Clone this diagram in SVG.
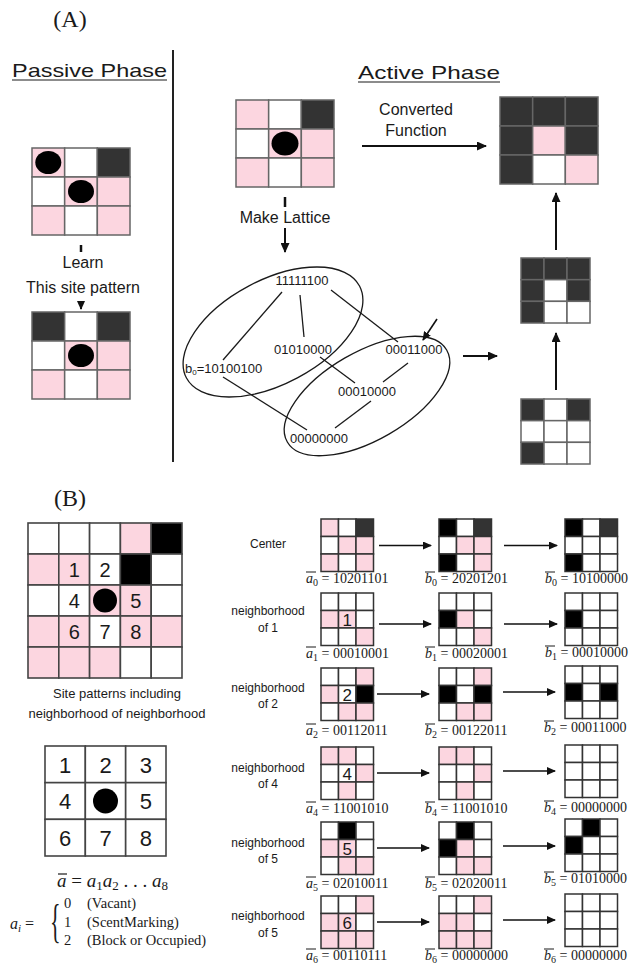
<svg xmlns="http://www.w3.org/2000/svg" xmlns:xlink="http://www.w3.org/1999/xlink" width="636" height="965" viewBox="0 0 636 965">
<style>
text{font-family:"Liberation Sans",Arial,sans-serif;fill:#1a1a1a}
.serif{font-family:"Liberation Serif","Times New Roman",serif}
.hd{font-size:19px}
.lb{font-size:16px}
.lat{font-size:13px}
.nb{font-size:12px}
.num{font-size:20px}
.num3{font-size:22px}
.sn{font-size:17px}
.m{font-family:"Liberation Serif","Times New Roman",serif;font-size:14px}
.it{font-style:italic}
.ln{stroke:#1a1a1a;stroke-width:1.3;fill:none}
.ar2{stroke:#111;stroke-width:2;fill:none}
.ar1{stroke:#111;stroke-width:1.6;fill:none}
</style>
<defs>
<marker id="h2" markerWidth="10" markerHeight="9" refX="9" refY="4.5" orient="auto" markerUnits="userSpaceOnUse"><path d="M0,0 L10,4.5 L0,9 z" fill="#111"/></marker>
<marker id="h1" markerWidth="9" markerHeight="8" refX="8" refY="4" orient="auto" markerUnits="userSpaceOnUse"><path d="M0,0 L9,4 L0,8 z" fill="#111"/></marker>
<rect id="aP" width="32.67" height="29" fill="#fcd6e0" stroke="#666" stroke-width="1.5"/>
<rect id="aW" width="32.67" height="29" fill="#fff" stroke="#666" stroke-width="1.5"/>
<rect id="aD" width="32.67" height="29" fill="#333" stroke="#666" stroke-width="1.5"/>
<rect id="sP" width="23" height="21.67" fill="#fcd6e0" stroke="#666" stroke-width="1.5"/>
<rect id="sW" width="23" height="21.67" fill="#fff" stroke="#666" stroke-width="1.5"/>
<rect id="sD" width="23" height="21.67" fill="#333" stroke="#666" stroke-width="1.5"/>
<rect id="BP" width="30.8" height="31" fill="#fcd6e0" stroke="#444" stroke-width="1.6"/>
<rect id="BW" width="30.8" height="31" fill="#fff" stroke="#444" stroke-width="1.6"/>
<rect id="BK" width="30.8" height="31" fill="#000" stroke="#444" stroke-width="1.6"/>
<rect id="CW" width="40.33" height="36.67" fill="#fff" stroke="#444" stroke-width="1.6"/>
<rect id="bP" width="17.5" height="17.5" fill="#fcd6e0" stroke="#333" stroke-width="1.5"/>
<rect id="bW" width="17.5" height="17.5" fill="#fff" stroke="#333" stroke-width="1.5"/>
<rect id="bK" width="17.5" height="17.5" fill="#000" stroke="#333" stroke-width="1.5"/>
<rect id="bD" width="17.5" height="17.5" fill="#333" stroke="#333" stroke-width="1.5"/>
</defs>
<rect width="636" height="965" fill="#fff"/>

<!-- Titles -->
<text class="serif" x="70" y="27" font-size="24" text-anchor="middle">(A)</text>
<text class="hd" x="12" y="77" textLength="155" lengthAdjust="spacingAndGlyphs">Passive Phase</text>
<line x1="12" y1="80" x2="167" y2="80" stroke="#1a1a1a" stroke-width="1.2"/>
<text class="hd" x="358" y="79" textLength="142" lengthAdjust="spacingAndGlyphs">Active Phase</text>
<line x1="358" y1="82" x2="500" y2="82" stroke="#1a1a1a" stroke-width="1.2"/>
<line x1="173" y1="50" x2="173" y2="462" stroke="#222" stroke-width="2"/>

<!-- Passive grids -->
<g id="passive1" transform="translate(32,148)">
<use href="#aP" x="0" y="0"/><use href="#aW" x="32.67" y="0"/><use href="#aD" x="65.33" y="0"/>
<use href="#aW" x="0" y="29"/><use href="#aP" x="32.67" y="29"/><use href="#aP" x="65.33" y="29"/>
<use href="#aP" x="0" y="58"/><use href="#aW" x="32.67" y="58"/><use href="#aP" x="65.33" y="58"/>
<ellipse cx="16.3" cy="14.5" rx="13" ry="11.5" fill="#000"/>
<ellipse cx="49" cy="43.5" rx="13" ry="11.5" fill="#000"/>
</g>
<g id="learn">
<line x1="81" y1="245" x2="81" y2="252" stroke="#111" stroke-width="2.5"/>
<text class="lb" x="83" y="268" text-anchor="middle">Learn</text>
<text class="lb" x="83" y="293" text-anchor="middle">This site pattern</text>
</g>
<g id="passive2" transform="translate(32,312)">
<use href="#aD" x="0" y="0"/><use href="#aW" x="32.67" y="0"/><use href="#aD" x="65.33" y="0"/>
<use href="#aW" x="0" y="29"/><use href="#aP" x="32.67" y="29"/><use href="#aP" x="65.33" y="29"/>
<use href="#aP" x="0" y="58"/><use href="#aW" x="32.67" y="58"/><use href="#aP" x="65.33" y="58"/>
<ellipse cx="49" cy="43.5" rx="13" ry="11.5" fill="#000"/>
</g>

<!-- Active grids -->
<g id="active-input" transform="translate(236,100)">
<use href="#aP" x="0" y="0"/><use href="#aW" x="32.67" y="0"/><use href="#aD" x="65.33" y="0"/>
<use href="#aW" x="0" y="29"/><use href="#aP" x="32.67" y="29"/><use href="#aP" x="65.33" y="29"/>
<use href="#aP" x="0" y="58"/><use href="#aW" x="32.67" y="58"/><use href="#aP" x="65.33" y="58"/>
<ellipse cx="49" cy="43.5" rx="13.5" ry="12" fill="#000"/>
</g>
<g id="converted-label">
<text class="lb" x="416" y="115" text-anchor="middle">Converted</text>
<text class="lb" x="416" y="136" text-anchor="middle">Function</text>
</g>
<g id="active-output" transform="translate(500,97)">
<use href="#aD" x="0" y="0"/><use href="#aD" x="32.67" y="0"/><use href="#aD" x="65.33" y="0"/>
<use href="#aD" x="0" y="29"/><use href="#aP" x="32.67" y="29"/><use href="#aD" x="65.33" y="29"/>
<use href="#aD" x="0" y="58"/><use href="#aW" x="32.67" y="58"/><use href="#aP" x="65.33" y="58"/>
</g>
<g id="make-lattice">
<line x1="285" y1="197" x2="285" y2="207" stroke="#111" stroke-width="2.5"/>
<text class="lb" x="285" y="223" text-anchor="middle">Make Lattice</text>
</g>
<g id="mid-grid" transform="translate(521,258)">
<use href="#sD" x="0" y="0"/><use href="#sD" x="23" y="0"/><use href="#sD" x="46" y="0"/>
<use href="#sD" x="0" y="21.67"/><use href="#sW" x="23" y="21.67"/><use href="#sD" x="46" y="21.67"/>
<use href="#sD" x="0" y="43.33"/><use href="#sW" x="23" y="43.33"/><use href="#sW" x="46" y="43.33"/>
</g>
<g id="bot-grid" transform="translate(521,399)">
<use href="#sD" x="0" y="0"/><use href="#sW" x="23" y="0"/><use href="#sD" x="46" y="0"/>
<use href="#sW" x="0" y="21.67"/><use href="#sW" x="23" y="21.67"/><use href="#sW" x="46" y="21.67"/>
<use href="#sD" x="0" y="43.33"/><use href="#sW" x="23" y="43.33"/><use href="#sW" x="46" y="43.33"/>
</g>

<!-- Lattice -->
<g id="lattice">
<ellipse cx="273" cy="332" rx="98" ry="52" transform="rotate(-28 273 332)" class="ln"/>
<ellipse cx="367" cy="396" rx="92" ry="44" transform="rotate(-30 367 396)" class="ln"/>
<text class="lat" x="302" y="285" text-anchor="middle">11111100</text>
<text class="lat" x="303" y="354" text-anchor="middle">01010000</text>
<text class="lat" x="185" y="373">b<tspan font-size="8" dy="2">0</tspan><tspan dy="-2">=10100100</tspan></text>
<text class="lat" x="414" y="354" text-anchor="middle">00011000</text>
<text class="lat" x="367" y="396" text-anchor="middle">00010000</text>
<text class="lat" x="319" y="443" text-anchor="middle">00000000</text>
</g>

<!-- Connectors -->
<g id="connectors">
<line x1="81" y1="301" x2="81" y2="309" class="ar2" marker-end="url(#h1)"/>
<line x1="362" y1="146" x2="486" y2="146" class="ar2" marker-end="url(#h2)"/>
<line x1="285" y1="228" x2="285" y2="252" class="ar2" marker-end="url(#h2)"/>
<line x1="556" y1="250" x2="556" y2="193" class="ar2" marker-end="url(#h2)"/>
<line x1="556" y1="390" x2="556" y2="333" class="ar2" marker-end="url(#h2)"/>
<line x1="463" y1="356" x2="497" y2="356" class="ar2" marker-end="url(#h2)"/>
<line x1="437" y1="319" x2="423" y2="340" class="ar1" marker-end="url(#h1)"/>
<line x1="282" y1="292" x2="223" y2="360" class="ln"/>
<line x1="300" y1="295" x2="304" y2="337" class="ln"/>
<line x1="331" y1="290" x2="398" y2="342" class="ln"/>
<line x1="320" y1="357" x2="355" y2="383" class="ln"/>
<line x1="408" y1="363" x2="383" y2="382" class="ln"/>
<line x1="371" y1="401" x2="335" y2="428" class="ln"/>
<line x1="223" y1="377" x2="307" y2="430" class="ln"/>
<!-- B arrows -->
<line x1="379" y1="545.5" x2="431" y2="545.5" class="ar1" marker-end="url(#h1)"/>
<line x1="504" y1="545.5" x2="557" y2="545.5" class="ar1" marker-end="url(#h1)"/>
<line x1="379" y1="624" x2="431" y2="624" class="ar1" marker-end="url(#h1)"/>
<line x1="504" y1="624" x2="557" y2="624" class="ar1" marker-end="url(#h1)"/>
<line x1="377" y1="694" x2="429" y2="694" class="ar1" marker-end="url(#h1)"/>
<line x1="503" y1="692" x2="555" y2="692" class="ar1" marker-end="url(#h1)"/>
<line x1="377" y1="773" x2="429" y2="773" class="ar1" marker-end="url(#h1)"/>
<line x1="503" y1="771" x2="555" y2="771" class="ar1" marker-end="url(#h1)"/>
<line x1="377" y1="848" x2="429" y2="848" class="ar1" marker-end="url(#h1)"/>
<line x1="503" y1="846" x2="555" y2="846" class="ar1" marker-end="url(#h1)"/>
<line x1="377" y1="922" x2="429" y2="922" class="ar1" marker-end="url(#h1)"/>
<line x1="503" y1="920" x2="555" y2="920" class="ar1" marker-end="url(#h1)"/>
</g>

<!-- (B) -->
<text class="serif" x="70" y="506" font-size="24" text-anchor="middle">(B)</text>
<g id="big-grid" transform="translate(28,523)">
<use href="#BW" x="0" y="0"/><use href="#BW" x="30.8" y="0"/><use href="#BW" x="61.6" y="0"/><use href="#BP" x="92.4" y="0"/><use href="#BK" x="123.2" y="0"/>
<use href="#BP" x="0" y="31"/><use href="#BP" x="30.8" y="31"/><use href="#BW" x="61.6" y="31"/><use href="#BK" x="92.4" y="31"/><use href="#BW" x="123.2" y="31"/>
<use href="#BW" x="0" y="62"/><use href="#BW" x="30.8" y="62"/><use href="#BP" x="61.6" y="62"/><use href="#BP" x="92.4" y="62"/><use href="#BW" x="123.2" y="62"/>
<use href="#BP" x="0" y="93"/><use href="#BP" x="30.8" y="93"/><use href="#BW" x="61.6" y="93"/><use href="#BP" x="92.4" y="93"/><use href="#BP" x="123.2" y="93"/>
<use href="#BP" x="0" y="124"/><use href="#BP" x="30.8" y="124"/><use href="#BP" x="61.6" y="124"/><use href="#BW" x="92.4" y="124"/><use href="#BW" x="123.2" y="124"/>
<circle cx="77" cy="77.5" r="12" fill="#000"/>
<text class="num" x="46.2" y="53.5" text-anchor="middle">1</text>
<text class="num" x="77" y="53.5" text-anchor="middle">2</text>
<text class="num" x="46.2" y="84.5" text-anchor="middle">4</text>
<text class="num" x="107.8" y="84.5" text-anchor="middle">5</text>
<text class="num" x="46.2" y="115.5" text-anchor="middle">6</text>
<text class="num" x="77" y="115.5" text-anchor="middle">7</text>
<text class="num" x="107.8" y="115.5" text-anchor="middle">8</text>
</g>
<g id="big-caption">
<text x="117" y="698" font-size="13" text-anchor="middle">Site patterns including</text>
<text x="117" y="718" font-size="13" text-anchor="middle">neighborhood of neighborhood</text>
</g>
<g id="index-grid" transform="translate(45,746)">
<use href="#CW" x="0" y="0"/><use href="#CW" x="40.33" y="0"/><use href="#CW" x="80.67" y="0"/>
<use href="#CW" x="0" y="36.67"/><use href="#CW" x="40.33" y="36.67"/><use href="#CW" x="80.67" y="36.67"/>
<use href="#CW" x="0" y="73.33"/><use href="#CW" x="40.33" y="73.33"/><use href="#CW" x="80.67" y="73.33"/>
<circle cx="60.5" cy="55" r="12.5" fill="#000"/>
<text class="num3" x="20.2" y="26.5" text-anchor="middle">1</text>
<text class="num3" x="60.5" y="26.5" text-anchor="middle">2</text>
<text class="num3" x="100.8" y="26.5" text-anchor="middle">3</text>
<text class="num3" x="20.2" y="63" text-anchor="middle">4</text>
<text class="num3" x="100.8" y="63" text-anchor="middle">5</text>
<text class="num3" x="20.2" y="100" text-anchor="middle">6</text>
<text class="num3" x="60.5" y="100" text-anchor="middle">7</text>
<text class="num3" x="100.8" y="100" text-anchor="middle">8</text>
</g>
<g id="formula">
<text class="serif" x="57" y="887" font-size="19"><tspan class="it">a</tspan> = <tspan class="it">a</tspan><tspan font-size="13" dy="3">1</tspan><tspan class="it" dy="-3">a</tspan><tspan font-size="13" dy="3">2</tspan><tspan dy="-3"> . . . </tspan><tspan class="it">a</tspan><tspan font-size="13" dy="3">8</tspan></text>
<line x1="58" y1="874" x2="67" y2="874" stroke="#1a1a1a" stroke-width="1.2"/>
<text class="serif" x="10" y="929" font-size="16"><tspan class="it">a</tspan><tspan class="it" font-size="11" dy="3">i</tspan><tspan dy="-3"> =</tspan></text>
<text class="serif" x="50" y="927" font-size="22" transform="translate(0,-1010) scale(1,2.1)">{</text>
<text class="serif" x="64" y="908" font-size="14.5">0</text>
<text class="serif" x="87" y="908" font-size="14.5">(Vacant)</text>
<text class="serif" x="64" y="927" font-size="14.5">1</text>
<text class="serif" x="87" y="927" font-size="14.5">(ScentMarking)</text>
<text class="serif" x="64" y="945" font-size="14.5">2</text>
<text class="serif" x="87" y="945" font-size="14.5">(Block or Occupied)</text>
</g>

<!-- Row labels -->
<g id="row-labels">
<text class="nb" x="268" y="548" text-anchor="middle">Center</text>
<text class="nb" x="268" y="615" text-anchor="middle">neighborhood</text>
<text class="nb" x="268" y="632" text-anchor="middle">of 1</text>
<text class="nb" x="268" y="692" text-anchor="middle">neighborhood</text>
<text class="nb" x="268" y="708" text-anchor="middle">of 2</text>
<text class="nb" x="268" y="772" text-anchor="middle">neighborhood</text>
<text class="nb" x="268" y="788" text-anchor="middle">of 4</text>
<text class="nb" x="268" y="847" text-anchor="middle">neighborhood</text>
<text class="nb" x="268" y="863" text-anchor="middle">of 5</text>
<text class="nb" x="268" y="920" text-anchor="middle">neighborhood</text>
<text class="nb" x="268" y="937" text-anchor="middle">of 5</text>
</g>

<!-- Row 0 -->
<g id="r0g1" transform="translate(321,519)">
<use href="#bP" x="0" y="0"/><use href="#bW" x="17.5" y="0"/><use href="#bD" x="35" y="0"/>
<use href="#bW" x="0" y="17.5"/><use href="#bP" x="17.5" y="17.5"/><use href="#bP" x="35" y="17.5"/>
<use href="#bP" x="0" y="35"/><use href="#bW" x="17.5" y="35"/><use href="#bP" x="35" y="35"/>
</g>
<g id="r0g2" transform="translate(439,519)">
<use href="#bK" x="0" y="0"/><use href="#bW" x="17.5" y="0"/><use href="#bD" x="35" y="0"/>
<use href="#bW" x="0" y="17.5"/><use href="#bP" x="17.5" y="17.5"/><use href="#bP" x="35" y="17.5"/>
<use href="#bK" x="0" y="35"/><use href="#bW" x="17.5" y="35"/><use href="#bP" x="35" y="35"/>
</g>
<g id="r0g3" transform="translate(565,519)">
<use href="#bK" x="0" y="0"/><use href="#bW" x="17.5" y="0"/><use href="#bD" x="35" y="0"/>
<use href="#bW" x="0" y="17.5"/><use href="#bW" x="17.5" y="17.5"/><use href="#bW" x="35" y="17.5"/>
<use href="#bK" x="0" y="35"/><use href="#bW" x="17.5" y="35"/><use href="#bW" x="35" y="35"/>
</g>
<!-- Row 1 -->
<g id="r1g1" transform="translate(321,593)">
<use href="#bW" x="0" y="0"/><use href="#bW" x="17.5" y="0"/><use href="#bW" x="35" y="0"/>
<use href="#bP" x="0" y="17.5"/><use href="#bP" x="17.5" y="17.5"/><use href="#bW" x="35" y="17.5"/>
<use href="#bW" x="0" y="35"/><use href="#bW" x="17.5" y="35"/><use href="#bP" x="35" y="35"/>
<text class="sn" x="26.25" y="32.5" text-anchor="middle">1</text>
</g>
<g id="r1g2" transform="translate(439,593)">
<use href="#bW" x="0" y="0"/><use href="#bW" x="17.5" y="0"/><use href="#bW" x="35" y="0"/>
<use href="#bK" x="0" y="17.5"/><use href="#bP" x="17.5" y="17.5"/><use href="#bW" x="35" y="17.5"/>
<use href="#bW" x="0" y="35"/><use href="#bW" x="17.5" y="35"/><use href="#bP" x="35" y="35"/>
</g>
<g id="r1g3" transform="translate(565,593)">
<use href="#bW" x="0" y="0"/><use href="#bW" x="17.5" y="0"/><use href="#bW" x="35" y="0"/>
<use href="#bK" x="0" y="17.5"/><use href="#bW" x="17.5" y="17.5"/><use href="#bW" x="35" y="17.5"/>
<use href="#bW" x="0" y="35"/><use href="#bW" x="17.5" y="35"/><use href="#bW" x="35" y="35"/>
</g>
<!-- Row 2 -->
<g id="r2g1" transform="translate(321,668)">
<use href="#bW" x="0" y="0"/><use href="#bW" x="17.5" y="0"/><use href="#bP" x="35" y="0"/>
<use href="#bP" x="0" y="17.5"/><use href="#bW" x="17.5" y="17.5"/><use href="#bK" x="35" y="17.5"/>
<use href="#bW" x="0" y="35"/><use href="#bP" x="17.5" y="35"/><use href="#bP" x="35" y="35"/>
<text class="sn" x="26.25" y="32.5" text-anchor="middle">2</text>
</g>
<g id="r2g2" transform="translate(439,668)">
<use href="#bW" x="0" y="0"/><use href="#bW" x="17.5" y="0"/><use href="#bP" x="35" y="0"/>
<use href="#bK" x="0" y="17.5"/><use href="#bW" x="17.5" y="17.5"/><use href="#bK" x="35" y="17.5"/>
<use href="#bW" x="0" y="35"/><use href="#bP" x="17.5" y="35"/><use href="#bP" x="35" y="35"/>
</g>
<g id="r2g3" transform="translate(565,666)">
<use href="#bW" x="0" y="0"/><use href="#bW" x="17.5" y="0"/><use href="#bW" x="35" y="0"/>
<use href="#bK" x="0" y="17.5"/><use href="#bW" x="17.5" y="17.5"/><use href="#bK" x="35" y="17.5"/>
<use href="#bW" x="0" y="35"/><use href="#bW" x="17.5" y="35"/><use href="#bW" x="35" y="35"/>
</g>
<!-- Row 3 -->
<g id="r3g1" transform="translate(321,747)">
<use href="#bP" x="0" y="0"/><use href="#bP" x="17.5" y="0"/><use href="#bW" x="35" y="0"/>
<use href="#bW" x="0" y="17.5"/><use href="#bW" x="17.5" y="17.5"/><use href="#bP" x="35" y="17.5"/>
<use href="#bW" x="0" y="35"/><use href="#bP" x="17.5" y="35"/><use href="#bW" x="35" y="35"/>
<text class="sn" x="26.25" y="32.5" text-anchor="middle">4</text>
</g>
<g id="r3g2" transform="translate(439,747)">
<use href="#bP" x="0" y="0"/><use href="#bP" x="17.5" y="0"/><use href="#bW" x="35" y="0"/>
<use href="#bW" x="0" y="17.5"/><use href="#bW" x="17.5" y="17.5"/><use href="#bP" x="35" y="17.5"/>
<use href="#bW" x="0" y="35"/><use href="#bP" x="17.5" y="35"/><use href="#bW" x="35" y="35"/>
</g>
<g id="r3g3" transform="translate(565,745)">
<use href="#bW" x="0" y="0"/><use href="#bW" x="17.5" y="0"/><use href="#bW" x="35" y="0"/>
<use href="#bW" x="0" y="17.5"/><use href="#bW" x="17.5" y="17.5"/><use href="#bW" x="35" y="17.5"/>
<use href="#bW" x="0" y="35"/><use href="#bW" x="17.5" y="35"/><use href="#bW" x="35" y="35"/>
</g>
<!-- Row 4 -->
<g id="r4g1" transform="translate(321,822)">
<use href="#bW" x="0" y="0"/><use href="#bK" x="17.5" y="0"/><use href="#bW" x="35" y="0"/>
<use href="#bP" x="0" y="17.5"/><use href="#bP" x="17.5" y="17.5"/><use href="#bW" x="35" y="17.5"/>
<use href="#bW" x="0" y="35"/><use href="#bP" x="17.5" y="35"/><use href="#bP" x="35" y="35"/>
<text class="sn" x="26.25" y="32.5" text-anchor="middle">5</text>
</g>
<g id="r4g2" transform="translate(439,822)">
<use href="#bW" x="0" y="0"/><use href="#bK" x="17.5" y="0"/><use href="#bW" x="35" y="0"/>
<use href="#bK" x="0" y="17.5"/><use href="#bP" x="17.5" y="17.5"/><use href="#bW" x="35" y="17.5"/>
<use href="#bW" x="0" y="35"/><use href="#bP" x="17.5" y="35"/><use href="#bP" x="35" y="35"/>
</g>
<g id="r4g3" transform="translate(565,819)">
<use href="#bW" x="0" y="0"/><use href="#bK" x="17.5" y="0"/><use href="#bW" x="35" y="0"/>
<use href="#bK" x="0" y="17.5"/><use href="#bW" x="17.5" y="17.5"/><use href="#bW" x="35" y="17.5"/>
<use href="#bW" x="0" y="35"/><use href="#bW" x="17.5" y="35"/><use href="#bW" x="35" y="35"/>
</g>
<!-- Row 5 -->
<g id="r5g1" transform="translate(321,896)">
<use href="#bW" x="0" y="0"/><use href="#bW" x="17.5" y="0"/><use href="#bP" x="35" y="0"/>
<use href="#bP" x="0" y="17.5"/><use href="#bP" x="17.5" y="17.5"/><use href="#bW" x="35" y="17.5"/>
<use href="#bP" x="0" y="35"/><use href="#bP" x="17.5" y="35"/><use href="#bP" x="35" y="35"/>
<text class="sn" x="26.25" y="32.5" text-anchor="middle">6</text>
</g>
<g id="r5g2" transform="translate(439,896)">
<use href="#bW" x="0" y="0"/><use href="#bW" x="17.5" y="0"/><use href="#bP" x="35" y="0"/>
<use href="#bP" x="0" y="17.5"/><use href="#bP" x="17.5" y="17.5"/><use href="#bW" x="35" y="17.5"/>
<use href="#bP" x="0" y="35"/><use href="#bP" x="17.5" y="35"/><use href="#bP" x="35" y="35"/>
</g>
<g id="r5g3" transform="translate(565,894)">
<use href="#bW" x="0" y="0"/><use href="#bW" x="17.5" y="0"/><use href="#bW" x="35" y="0"/>
<use href="#bW" x="0" y="17.5"/><use href="#bW" x="17.5" y="17.5"/><use href="#bW" x="35" y="17.5"/>
<use href="#bW" x="0" y="35"/><use href="#bW" x="17.5" y="35"/><use href="#bW" x="35" y="35"/>
</g>

<!-- Value labels -->
<g id="value-labels">
<text class="m" x="306" y="583"><tspan class="it">a</tspan><tspan font-size="10" dy="3">0</tspan><tspan dy="-3"> = 10201101</tspan></text>
<text class="m" x="425" y="583"><tspan class="it">b</tspan><tspan font-size="10" dy="3">0</tspan><tspan dy="-3"> = 20201201</tspan></text>
<text class="m" x="545" y="583"><tspan class="it">b</tspan><tspan font-size="10" dy="3">0</tspan><tspan dy="-3"> = 10100000</tspan></text>
<text class="m" x="306" y="658"><tspan class="it">a</tspan><tspan font-size="10" dy="3">1</tspan><tspan dy="-3"> = 00010001</tspan></text>
<text class="m" x="425" y="658"><tspan class="it">b</tspan><tspan font-size="10" dy="3">1</tspan><tspan dy="-3"> = 00020001</tspan></text>
<text class="m" x="545" y="657"><tspan class="it">b</tspan><tspan font-size="10" dy="3">1</tspan><tspan dy="-3"> = 00010000</tspan></text>
<text class="m" x="306" y="735"><tspan class="it">a</tspan><tspan font-size="10" dy="3">2</tspan><tspan dy="-3"> = 00112011</tspan></text>
<text class="m" x="425" y="735"><tspan class="it">b</tspan><tspan font-size="10" dy="3">2</tspan><tspan dy="-3"> = 00122011</tspan></text>
<text class="m" x="544" y="732"><tspan class="it">b</tspan><tspan font-size="10" dy="3">2</tspan><tspan dy="-3"> = 00011000</tspan></text>
<text class="m" x="306" y="813"><tspan class="it">a</tspan><tspan font-size="10" dy="3">4</tspan><tspan dy="-3"> = 11001010</tspan></text>
<text class="m" x="425" y="813"><tspan class="it">b</tspan><tspan font-size="10" dy="3">4</tspan><tspan dy="-3"> = 11001010</tspan></text>
<text class="m" x="544" y="812"><tspan class="it">b</tspan><tspan font-size="10" dy="3">4</tspan><tspan dy="-3"> = 00000000</tspan></text>
<text class="m" x="306" y="888"><tspan class="it">a</tspan><tspan font-size="10" dy="3">5</tspan><tspan dy="-3"> = 02010011</tspan></text>
<text class="m" x="425" y="888"><tspan class="it">b</tspan><tspan font-size="10" dy="3">5</tspan><tspan dy="-3"> = 02020011</tspan></text>
<text class="m" x="544" y="883"><tspan class="it">b</tspan><tspan font-size="10" dy="3">5</tspan><tspan dy="-3"> = 01010000</tspan></text>
<text class="m" x="306" y="960"><tspan class="it">a</tspan><tspan font-size="10" dy="3">6</tspan><tspan dy="-3"> = 00110111</tspan></text>
<text class="m" x="425" y="960"><tspan class="it">b</tspan><tspan font-size="10" dy="3">6</tspan><tspan dy="-3"> = 00000000</tspan></text>
<text class="m" x="544" y="960"><tspan class="it">b</tspan><tspan font-size="10" dy="3">6</tspan><tspan dy="-3"> = 00000000</tspan></text>
<g stroke="#1a1a1a" stroke-width="1">
<line x1="306" y1="572" x2="316" y2="572"/><line x1="425" y1="572" x2="435" y2="572"/><line x1="545" y1="572" x2="555" y2="572"/>
<line x1="306" y1="647" x2="316" y2="647"/><line x1="425" y1="647" x2="435" y2="647"/><line x1="545" y1="646" x2="555" y2="646"/>
<line x1="306" y1="724" x2="316" y2="724"/><line x1="425" y1="724" x2="435" y2="724"/><line x1="544" y1="721" x2="554" y2="721"/>
<line x1="306" y1="802" x2="316" y2="802"/><line x1="425" y1="802" x2="435" y2="802"/><line x1="544" y1="801" x2="554" y2="801"/>
<line x1="306" y1="877" x2="316" y2="877"/><line x1="425" y1="877" x2="435" y2="877"/><line x1="544" y1="872" x2="554" y2="872"/>
<line x1="306" y1="949" x2="316" y2="949"/><line x1="425" y1="949" x2="435" y2="949"/><line x1="544" y1="949" x2="554" y2="949"/>
</g>
</g>
</svg>
